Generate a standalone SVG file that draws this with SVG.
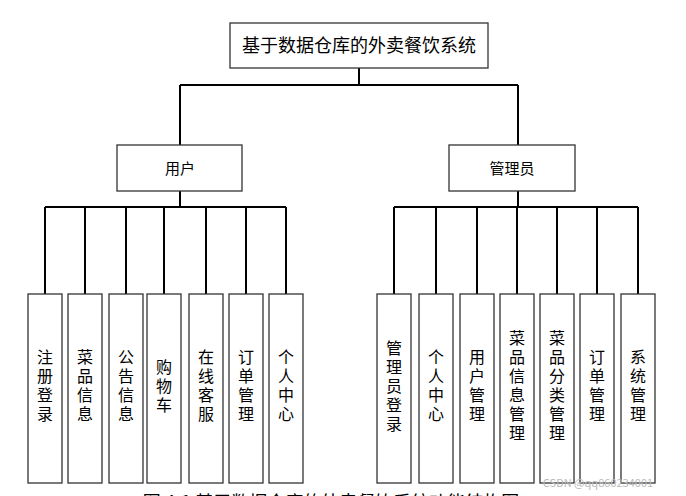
<svg xmlns="http://www.w3.org/2000/svg" width="686" height="496" viewBox="0 0 686 496">
<style>
rect{fill:#fff;stroke:#333;stroke-width:1.3}
text{font-family:"Noto Sans CJK SC","Liberation Sans",sans-serif;font-size:15px;fill:#000;text-anchor:middle}
.v{font-size:16px}
#conn path{stroke:#000;stroke-width:2;fill:none}
</style>
<rect x="0" y="0" width="686" height="496" style="fill:#fff;stroke:none"/>
<g id="conn">
<path d="M359 68V85M180 85H518M180 85V145M518 85V145"/>
<path d="M180 191V207M45 207H286M45 207V294M85 207V294M126 207V294M164 207V294M206 207V294M246 207V294M286 207V294"/>
<path d="M518 191V207M394 207H638M394 207V294M436 207V294M477 207V294M517 207V294M557 207V294M597 207V294M638 207V294"/>
</g>
<g id="root"><rect x="230" y="23" width="258" height="45"/><text x="359" y="52" style="font-size:18px">基于数据仓库的外卖餐饮系统</text></g>
<g id="user"><rect x="117" y="145" width="125" height="46"/><text x="180" y="174">用户</text></g>
<g id="admin"><rect x="449" y="145" width="126" height="46"/><text x="512" y="174">管理员</text></g>
<g id="u1"><rect x="28" y="294" width="34" height="189"/><text class="v"><tspan x="45" y="363">注</tspan><tspan x="45" y="382">册</tspan><tspan x="45" y="401">登</tspan><tspan x="45" y="420">录</tspan></text></g>
<g id="u2"><rect x="68" y="294" width="34" height="189"/><text class="v"><tspan x="85" y="363">菜</tspan><tspan x="85" y="382">品</tspan><tspan x="85" y="401">信</tspan><tspan x="85" y="420">息</tspan></text></g>
<g id="u3"><rect x="109" y="294" width="34" height="189"/><text class="v"><tspan x="126" y="363">公</tspan><tspan x="126" y="382">告</tspan><tspan x="126" y="401">信</tspan><tspan x="126" y="420">息</tspan></text></g>
<g id="u4"><rect x="147" y="294" width="34" height="189"/><text class="v"><tspan x="164" y="373">购</tspan><tspan x="164" y="392">物</tspan><tspan x="164" y="411">车</tspan></text></g>
<g id="u5"><rect x="189" y="294" width="34" height="189"/><text class="v"><tspan x="206" y="363">在</tspan><tspan x="206" y="382">线</tspan><tspan x="206" y="401">客</tspan><tspan x="206" y="420">服</tspan></text></g>
<g id="u6"><rect x="229" y="294" width="34" height="189"/><text class="v"><tspan x="246" y="363">订</tspan><tspan x="246" y="382">单</tspan><tspan x="246" y="401">管</tspan><tspan x="246" y="420">理</tspan></text></g>
<g id="u7"><rect x="269" y="294" width="34" height="189"/><text class="v"><tspan x="286" y="363">个</tspan><tspan x="286" y="382">人</tspan><tspan x="286" y="401">中</tspan><tspan x="286" y="420">心</tspan></text></g>
<g id="a1"><rect x="377" y="294" width="34" height="189"/><text class="v"><tspan x="394" y="354">管</tspan><tspan x="394" y="373">理</tspan><tspan x="394" y="392">员</tspan><tspan x="394" y="411">登</tspan><tspan x="394" y="430">录</tspan></text></g>
<g id="a2"><rect x="419" y="294" width="34" height="189"/><text class="v"><tspan x="436" y="363">个</tspan><tspan x="436" y="382">人</tspan><tspan x="436" y="401">中</tspan><tspan x="436" y="420">心</tspan></text></g>
<g id="a3"><rect x="460" y="294" width="34" height="189"/><text class="v"><tspan x="477" y="363">用</tspan><tspan x="477" y="382">户</tspan><tspan x="477" y="401">管</tspan><tspan x="477" y="420">理</tspan></text></g>
<g id="a4"><rect x="500" y="294" width="34" height="189"/><text class="v"><tspan x="517" y="344">菜</tspan><tspan x="517" y="363">品</tspan><tspan x="517" y="382">信</tspan><tspan x="517" y="401">息</tspan><tspan x="517" y="420">管</tspan><tspan x="517" y="439">理</tspan></text></g>
<g id="a5"><rect x="540" y="294" width="34" height="189"/><text class="v"><tspan x="557" y="344">菜</tspan><tspan x="557" y="363">品</tspan><tspan x="557" y="382">分</tspan><tspan x="557" y="401">类</tspan><tspan x="557" y="420">管</tspan><tspan x="557" y="439">理</tspan></text></g>
<g id="a6"><rect x="580" y="294" width="34" height="189"/><text class="v"><tspan x="597" y="363">订</tspan><tspan x="597" y="382">单</tspan><tspan x="597" y="401">管</tspan><tspan x="597" y="420">理</tspan></text></g>
<g id="a7"><rect x="621" y="294" width="34" height="189"/><text class="v"><tspan x="638" y="363">系</tspan><tspan x="638" y="382">统</tspan><tspan x="638" y="401">管</tspan><tspan x="638" y="420">理</tspan></text></g>
<text x="598" y="487" style="font-size:11px;fill:#bbb">CSDN @qq860234001</text>
<text x="331" y="509" style="font-size:18px">图 4-1 基于数据仓库的外卖餐饮系统功能结构图</text>
</svg>
